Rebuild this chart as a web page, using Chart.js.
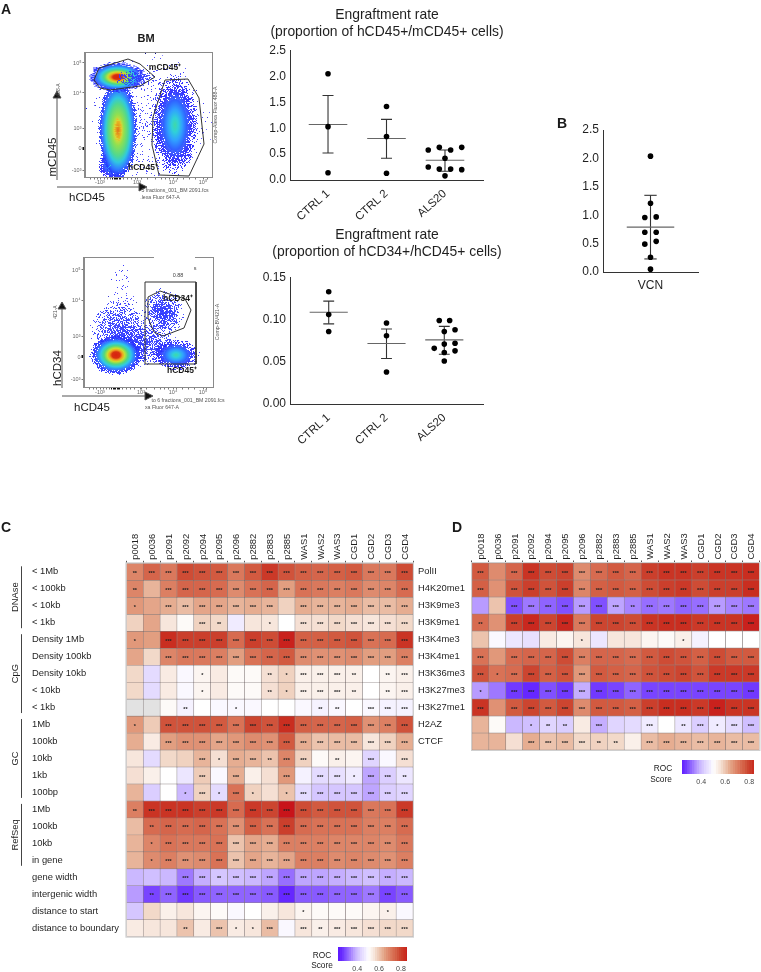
<!DOCTYPE html>
<html><head><meta charset="utf-8">
<style>
html,body{margin:0;padding:0;background:#fff;}
body{position:relative;width:761px;height:972px;overflow:hidden;font-family:"Liberation Sans",Arial,sans-serif;color:#1a1a1a;filter:blur(.3px);}
canvas{position:absolute;display:block;}
.t{position:absolute;white-space:nowrap;transform:translate(-50%,-50%);line-height:1;z-index:5;}
svg{position:absolute;left:0;top:0;z-index:4;}
</style>
<script src="https://cdn.jsdelivr.net/npm/chart.js@4"></script>
</head><body>
<svg width="761" height="972">
 <g stroke="#555" stroke-width="1" fill="#111">
  <line x1="57" y1="180" x2="57" y2="95"/><polygon points="57,91 53,98 61,98" />
  <line x1="57" y1="187" x2="140" y2="187"/><polygon points="147,187 139,183 139,191"/>
  <line x1="62" y1="388" x2="62" y2="306"/><polygon points="62,302 58,309 66,309"/>
  <line x1="62" y1="396" x2="146" y2="396"/><polygon points="153,396 145,392 145,400"/>
 </g>
</svg>
<script>
// ---------- data: engraftment dot plots ----------
const groupLabels = ['CTRL 1','CTRL 2','ALS20'];
const hcd45Ctrl1 = [2.05,1.03,0.14];
const hcd45Ctrl2 = [1.42,0.84,0.13];
const hcd45Als20 = [0.58,0.63,0.58,0.63,0.42,0.25,0.21,0.21,0.20,0.08];
const hcd45Als20Spread = [-0.286,-0.097,0.097,0.286,0,-0.286,-0.097,0.097,0.286,0];
const hcd45Means = [1.07,0.80,0.38];
const hcd45Lower = [0.52,0.42,0.17];
const hcd45Upper = [1.63,1.17,0.58];

const hcd34Ctrl1 = [0.133,0.106,0.086];
const hcd34Ctrl2 = [0.096,0.081,0.038];
const hcd34Als20 = [0.099,0.099,0.088,0.086,0.071,0.072,0.066,0.063,0.061,0.051];
const hcd34Als20Spread = [-0.087,0.093,0.186,0,0,0.186,-0.174,0.186,0,0];
const hcd34Means = [0.1087,0.0717,0.076];
const hcd34Lower = [0.095,0.054,0.059];
const hcd34Upper = [0.122,0.089,0.092];

const vcnLabels = ['VCN'];
const vcnValues = [2.04,1.21,0.96,0.97,0.70,0.70,0.49,0.54,0.26,0.05];
const vcnSpread = [0,0,-0.12,0.12,-0.12,0.12,-0.12,0.12,0,0];
const vcnMeans = [0.79];
const vcnLower = [0.23];
const vcnUpper = [1.35];

// ---------- data: flow plots (channel units along each axis) ----------
const flowTopGateMouse = [[9,97],[14,109],[43,118],[55,113],[70,100],[55,91],[25,87],[15,89],[9,97]];
const flowTopGateHuman = [[80,97],[103,98],[114,79],[119,33],[104,1],[74,2],[67,32],[68,60],[80,97]];
const flowTopCenters = [[65,57],[28,12],[90,52],[33,47],[32.5,100],[50,99],[33,47],[91,99]];
const flowBottomGateBox = [[61,105],[112,105],[112,23],[61,23],[61,105]];
const flowBottomGateCd34 = [[64,90],[76,96],[101,88],[107,77],[100,59],[79,51],[70,55],[64,69],[64,90]];
const flowBottomCenters = [[35,55],[38,85],[60,42],[79,74],[79,74],[92,32],[32,32]];
const flowYTickLabels = ['10⁵','10⁴','10³','0','-10³'];
const flowTopYTicks = [114,84,49,29,7];
const flowBottomYTicks = [117,87,51,30,8];
const flowTopXTicks = [15,32,52,88,118];
const flowBottomXTicks = [16,33,57,89,119];
const flowXTickLabels = ['-10³','','10³','10⁴','10⁵'];
const flowXMinor = [5,9,12,19,22,25,27,29,30,31,34,35,38,42,46,50,56,62,70,76,80,84,92,98,104,110,122];

// ---------- data: ROC heatmaps ----------
const samples = ['p0018','p0036','p2091','p2092','p2094','p2095','p2096','p2882','p2883','p2885','WAS1','WAS2','WAS3','CGD1','CGD2','CGD3','CGD4'];
const genomeRows = ['< 1Mb','< 100kb','< 10kb','< 1kb','Density 1Mb','Density 100kb','Density 10kb','< 10kb','< 1kb','1Mb','100kb','10kb','1kb','100bp','1Mb','100kb','10kb','in gene','gene width','intergenic width','distance to start','distance to boundary'];
const genomeGroups = ['DNAse','CpG','GC','RefSeq'];
const genomeGroupStart = [0,4,9,14];
const genomeGroupEnd = [4,9,14,18];
const genomeScores = [
[.69,.74,.71,.78,.77,.76,.71,.76,.81,.77,.75,.74,.75,.76,.71,.71,.78],
[.69,.62,.70,.74,.74,.73,.68,.72,.74,.65,.72,.71,.70,.71,.68,.69,.73],
[.66,.64,.63,.61,.64,.64,.62,.63,.62,.58,.63,.62,.62,.63,.61,.61,.63],
[.58,.64,.55,.51,.58,.57,.47,.55,.55,.50,.56,.56,.57,.56,.55,.56,.57],
[.66,.65,.83,.80,.80,.80,.73,.80,.78,.85,.75,.75,.76,.77,.72,.73,.82],
[.64,.57,.69,.71,.71,.70,.65,.72,.74,.76,.68,.67,.67,.68,.65,.65,.70],
[.57,.44,.54,.49,.52,.54,.51,.51,.56,.58,.53,.53,.53,.53,.50,.52,.53],
[.57,.44,.54,.49,.52,.54,.51,.51,.56,.58,.53,.53,.53,.53,.50,.52,.53],
[null,null,.51,.48,.50,.49,.49,.49,.50,.50,.49,.48,.49,.50,.49,.48,.48],
[.66,.59,.77,.77,.77,.76,.72,.79,.77,.83,.75,.74,.74,.75,.67,.70,.77],
[.63,.54,.65,.67,.67,.64,.66,.68,.67,.76,.63,.60,.61,.61,.55,.58,.63],
[.55,.44,.57,.58,.62,.56,.63,.62,.60,.69,.58,.51,.53,.52,.43,.49,.56],
[.56,.53,.50,.46,.59,.49,.63,.53,.56,.66,.48,.44,.45,.47,.37,.42,.46],
[.62,.42,.50,.39,.58,.44,.72,.58,.56,.60,.44,.41,.41,.41,.37,.42,.43],
[.70,.82,.82,.82,.80,.81,.73,.81,.79,.87,.78,.76,.77,.77,.71,.72,.81],
[.61,.73,.74,.73,.74,.72,.67,.75,.72,.80,.73,.72,.72,.72,.70,.70,.73],
[.62,.69,.72,.71,.71,.72,.60,.64,.63,.70,.70,.70,.69,.69,.69,.68,.71],
[.62,.68,.70,.67,.68,.72,.60,.64,.62,.64,.70,.70,.68,.69,.68,.67,.70],
[.39,.40,.39,.33,.38,.41,.40,.39,.37,.32,.37,.37,.38,.39,.40,.38,.39],
[.36,.28,.31,.27,.30,.31,.31,.31,.30,.25,.30,.30,.31,.31,.33,.28,.30],
[.41,.57,.53,.55,.52,.51,.49,.50,.53,.55,.52,.51,.51,.51,.52,.53,.49],
[.54,.55,.55,.60,.54,.60,.54,.55,.61,.49,.55,.53,.54,.55,.56,.57,.57]];
const genomeStars = [
[2,3,3,3,3,3,3,3,3,3,3,3,3,3,3,3,3],
[2,0,3,3,3,3,3,3,3,3,3,3,3,3,3,3,3],
[1,0,3,3,3,3,3,3,3,0,3,3,3,3,3,3,3],
[0,0,0,0,3,2,0,0,1,0,3,3,3,3,3,3,3],
[1,0,3,3,3,3,3,3,3,3,3,3,3,3,3,3,3],
[0,0,3,3,3,3,3,3,3,3,3,3,3,3,3,3,3],
[0,0,0,0,1,0,0,0,2,1,3,3,3,2,0,2,3],
[0,0,0,0,1,0,0,0,2,1,3,3,3,2,0,2,3],
[0,0,0,2,0,0,1,0,0,0,0,2,2,0,3,3,3],
[1,0,3,3,3,3,3,3,3,3,3,3,3,3,3,3,3],
[0,0,3,3,3,3,3,3,3,3,3,3,3,3,3,3,3],
[0,0,0,0,3,1,3,3,2,3,3,0,2,0,3,0,3],
[0,0,0,0,3,0,3,0,0,3,0,3,3,1,3,3,2],
[0,0,0,1,3,1,3,1,0,1,3,3,3,3,3,3,3],
[2,3,3,3,3,3,3,3,3,3,3,3,3,3,3,3,3],
[0,2,3,3,3,3,3,3,3,3,3,3,3,3,3,3,3],
[0,1,3,3,3,3,3,3,3,3,3,3,3,3,3,3,3],
[0,1,3,3,3,3,3,3,3,3,3,3,3,3,3,3,3],
[0,0,0,3,3,2,3,3,3,3,3,3,3,3,3,3,3],
[0,2,3,3,3,3,3,3,3,3,3,3,3,3,3,3,3],
[0,0,0,0,0,0,0,0,0,0,1,0,0,0,0,1,0],
[0,0,0,2,0,3,1,1,3,0,3,2,3,3,3,3,3]];
const histoneRows = ['PolII','H4K20me1','H3K9me3','H3K9me1','H3K4me3','H3K4me1','H3K36me3','H3K27me3','H3K27me1','H2AZ','CTCF'];
const histoneScores = [
[.76,.68,.74,.82,.78,.79,.68,.73,.76,.74,.80,.82,.82,.80,.82,.82,.83],
[.75,.67,.77,.80,.77,.80,.69,.75,.76,.75,.78,.80,.81,.78,.80,.80,.83],
[.36,.60,.29,.33,.31,.29,.36,.29,.37,.34,.32,.33,.31,.32,.36,.34,.33],
[.73,.67,.80,.84,.79,.84,.71,.79,.79,.78,.82,.83,.83,.81,.82,.82,.85],
[.60,.49,.46,.45,.54,.52,.55,.46,.55,.55,.52,.51,.53,.48,.50,.50,.50],
[.72,.66,.73,.74,.74,.78,.70,.74,.74,.73,.76,.78,.77,.75,.78,.76,.76],
[.77,.72,.73,.79,.75,.77,.66,.76,.75,.74,.77,.78,.79,.77,.81,.81,.81],
[.36,.33,.27,.25,.29,.27,.38,.27,.28,.31,.28,.28,.28,.28,.28,.28,.27],
[.82,.67,.76,.79,.76,.79,.68,.76,.76,.75,.80,.83,.83,.81,.85,.82,.82],
[.62,.51,.39,.40,.43,.42,.54,.38,.43,.44,.47,.50,.46,.42,.47,.44,.40],
[.62,.62,.56,.63,.60,.61,.57,.58,.57,.53,.61,.63,.62,.61,.62,.61,.61]];
const histoneStars = [
[3,0,3,3,3,3,3,3,3,3,3,3,3,3,3,3,3],
[3,0,3,3,3,3,3,3,3,3,3,3,3,3,3,3,3],
[0,0,3,3,3,3,3,3,3,2,3,3,3,3,3,3,3],
[2,0,3,3,3,3,3,3,3,3,3,3,3,3,3,3,3],
[0,0,0,0,0,0,1,0,0,0,0,0,1,0,0,0,0],
[3,0,3,3,3,3,3,3,3,3,3,3,3,3,3,3,3],
[3,1,3,3,3,3,3,3,3,3,3,3,3,3,3,3,3],
[1,0,3,3,3,3,3,3,3,3,3,3,3,3,3,3,3],
[3,0,3,3,3,3,3,3,3,3,3,3,3,3,3,3,3],
[0,0,0,1,2,2,0,3,0,0,3,0,2,3,1,3,3],
[0,0,0,3,3,3,3,2,2,0,3,3,3,3,3,3,3]];
const legendLevels = [.22,.24,.26,.28,.30,.32,.34,.36,.38,.40,.42,.44,.46,.48,.50,.52,.54,.56,.58,.60,.62,.64,.66,.68,.70,.72,.74,.76,.78,.80,.82,.84,.86];
const legendTicks = [0.4,0.6,0.8];

// ---------- helpers ----------
Chart.defaults.font.family = '"Liberation Sans", Arial, sans-serif';
Chart.defaults.animation = false;
Chart.defaults.responsive = false;
Chart.defaults.plugins.legend.display = false;
Chart.defaults.plugins.tooltip.enabled = false;
const INK = '#1f1f1f';

function mk(left, top, w, h, blur){
  const c = document.createElement('canvas');
  c.width = w; c.height = h;
  c.style.left = left+'px'; c.style.top = top+'px';
  c.style.width = w+'px'; c.style.height = h+'px';
  if (blur) c.style.filter = 'blur('+blur+'px)';
  document.body.appendChild(c);
  return c;
}
function text(str, x, y, size, opts){
  opts = opts || {};
  const s = document.createElement('span');
  s.className = 't'; s.textContent = str;
  s.style.left = x+'px'; s.style.top = y+'px'; s.style.fontSize = size+'px';
  if (opts.bold) s.style.fontWeight = 'bold';
  if (opts.color) s.style.color = opts.color;
  if (opts.rot) s.style.transform = 'translate(-50%,-50%) rotate('+opts.rot+'deg)';
  document.body.appendChild(s);
}
const fixW = w => s => { s.width = w; s.paddingTop = s.paddingBottom = 0; s.paddingLeft = s.paddingRight = 0; };
const fixH = h => s => { s.height = h; s.paddingLeft = s.paddingRight = 0; s.paddingTop = s.paddingBottom = 0; };

// ---------- dot plots ----------
function segment(x0,y0,x1,y1,color,width){
  return {type:'scatter',showLine:true,data:[{x:x0,y:y0},{x:x1,y:y1}],borderColor:color,borderWidth:width,pointRadius:0,order:2};
}
function dotDatasets(groups, means, lower, upper, halfMean, halfCap){
  const ds = [];
  means.forEach((m,i)=>{
    const x = i+1;
    ds.push(segment(x-halfMean,m,x+halfMean,m,'#666',1.1));
    ds.push(segment(x,lower[i],x,upper[i],'#333',1.1));
    ds.push(segment(x-halfCap,lower[i],x+halfCap,lower[i],'#333',1.1));
    ds.push(segment(x-halfCap,upper[i],x+halfCap,upper[i],'#333',1.1));
  });
  ds.push({type:'scatter',data:groups,pointRadius:2.8,pointBackgroundColor:'#000',pointBorderWidth:0,order:0});
  return ds;
}
function pts(i, values, spread){ return values.map((v,k)=>({x:i+1+(spread?spread[k]:0),y:v})); }

function dotChart(canvas, cfg){
  const scales = {
    x:{type:'linear',min:cfg.xMin,max:cfg.xMax,grid:{display:false,drawTicks:true,tickLength:4,tickColor:'#333'},
       border:{color:'#333',width:1},
       afterBuildTicks:a=>{a.ticks=cfg.labels.map((l,i)=>({value:i+1}));},
       ticks:{autoSkip:false,color:INK,font:{size:cfg.rotate?11.5:12},padding:cfg.rotate?3:2,minRotation:cfg.rotate||0,maxRotation:cfg.rotate||0,
              callback:v=>cfg.labels[v-1]},
       afterFit:fixH(cfg.bottom)},
    y:{type:'linear',min:0,max:cfg.yMax,grid:{display:false,tickLength:3,tickColor:'#333'},border:{color:'#333',width:1},
       ticks:{stepSize:cfg.step,color:INK,font:{size:12},padding:1,callback:v=>v.toFixed(cfg.dec)},
       afterFit:fixW(cfg.left)}
  };
  if (cfg.rightAxis) scales.yHidden = {position:'right',display:true,min:0,max:1,grid:{display:false},border:{display:false},ticks:{display:false},afterFit:fixW(cfg.rightAxis)};
  new Chart(canvas,{type:'scatter',data:{datasets:cfg.datasets},options:{
    layout:{padding:cfg.padding||0},scales,
    plugins:{title:cfg.title?{display:true,text:cfg.title,color:INK,font:{size:13.9,weight:'normal',lineHeight:1.19},padding:cfg.titlePad}:{display:false}}
  }});
}
dotChart(mk(262,0,250,222),{
  labels:groupLabels,xMin:0.35,xMax:3.65,yMax:2.5,step:.5,dec:1,left:28,bottom:42,rightAxis:29,rotate:42,
  title:['Engraftment rate','(proportion of hCD45+/mCD45+ cells)'],titlePad:{top:7,bottom:10.4},
  datasets:dotDatasets([...pts(0,hcd45Ctrl1),...pts(1,hcd45Ctrl2),...pts(2,hcd45Als20,hcd45Als20Spread)],hcd45Means,hcd45Lower,hcd45Upper,.33,.094)
});
dotChart(mk(262,220,250,225),{
  labels:groupLabels,xMin:0.33,xMax:3.67,yMax:.15,step:.05,dec:2,left:28,bottom:41,rightAxis:29,rotate:42,
  title:['Engraftment rate','(proportion of hCD34+/hCD45+ cells)'],titlePad:{top:7,bottom:17.4},
  datasets:dotDatasets([...pts(0,hcd34Ctrl1),...pts(1,hcd34Ctrl2),...pts(2,hcd34Als20,hcd34Als20Spread)],hcd34Means,hcd34Lower,hcd34Upper,.33,.094)
});
dotChart(mk(570,120,140,175),{
  labels:vcnLabels,xMin:0,xMax:2,yMax:2.5,step:.5,dec:1,left:33,bottom:23,padding:{top:10,right:12},
  datasets:dotDatasets(pts(0,vcnValues,vcnSpread),vcnMeans,vcnLower,vcnUpper,.5,.13)
});

// ---------- flow plots ----------
function speckled(rx, ry, stops, seed){
  const c = document.createElement('canvas');
  c.width = Math.ceil(rx*2)+2; c.height = Math.ceil(ry*2)+2;
  const g = c.getContext('2d');
  g.translate(c.width/2,c.height/2); g.scale(rx,ry);
  const rg = g.createRadialGradient(0,0,0,0,0,1);
  stops.forEach(s=>rg.addColorStop(s[0],s[1]));
  g.fillStyle = rg; g.beginPath(); g.arc(0,0,1,0,Math.PI*2); g.fill();
  const im = g.getImageData(0,0,c.width,c.height), d = im.data;
  for (let y=0;y<c.height;y++) for (let x=0;x<c.width;x++){
    const k = (y*c.width+x)*4+3, a = d[k];
    if (a>0 && a<250){
      const h = Math.sin(x*12.9898+(y+seed)*78.233)*43758.5453;
      d[k] = (h-Math.floor(h)) < a/255 ? 235 : 0;
    }
  }
  g.setTransform(1,0,0,1,0,0);
  g.putImageData(im,0,0);
  return c;
}
const hot = [[0,'#d82010'],[.15,'#d83010'],[.24,'#f0a020'],[.32,'#c8e030'],[.44,'#50d880'],[.56,'#30c8e8'],[.68,'#3080ff'],[.8,'rgba(40,50,255,.8)'],[1,'rgba(40,50,255,0)']];
const warm = [[0,'#e8b030'],[.18,'#d8d838'],[.3,'#90e050'],[.5,'#50d890'],[.62,'#30c8e0'],[.75,'#3080ff'],[.86,'rgba(40,60,255,.8)'],[1,'rgba(40,60,255,0)']];
const cool = [[0,'#40d8a8'],[.14,'#30d0d8'],[.3,'#30a0ff'],[.48,'#3060ff'],[.68,'rgba(40,40,255,.7)'],[1,'rgba(40,40,255,0)']];
const blue = [[0,'rgba(50,60,255,.8)'],[.6,'rgba(50,60,255,.42)'],[1,'rgba(50,60,255,0)']];
const sparse = [[0,'rgba(60,60,255,.13)'],[.6,'rgba(60,60,255,.06)'],[1,'rgba(60,60,255,0)']];
const flowTopSprites = [
  speckled(66,70,sparse,1),speckled(16,16,cool,2),speckled(24,52,cool,3),speckled(20,52,warm,4),
  speckled(30,16,hot,5),speckled(22,9,blue,6),speckled(4.5,13,[[0,'#e06a18'],[.55,'rgba(230,170,30,.8)'],[1,'rgba(232,200,48,0)']],7),speckled(13,5,sparse,15)];
const flowBottomSprites = [
  speckled(30,33,blue,8),speckled(16,44,sparse,9),speckled(34,22,blue,10),speckled(22,26,blue,11),
  speckled(12,14,blue,12),speckled(24,17,cool,13),speckled(27,21,hot,14)];
function flowDataset(points, color){ return {data:points.map(p=>({x:p[0],y:p[1]})),showLine:true,borderColor:color,borderWidth:1,pointRadius:0,order:0}; }
function flowChart(canvas, cfg){
  const yVals = cfg.yTicks, xVals = cfg.xTicks;
  new Chart(canvas,{type:'scatter',data:{datasets:[
    ...cfg.gates.map(g=>flowDataset(g,'#333')),
    {data:cfg.centers.map(p=>({x:p[0],y:p[1]})),pointStyle:cfg.sprites,pointRadius:10,order:1}
  ]},options:{
    layout:{padding:cfg.padding},
    scales:{
      x:{type:'linear',min:0,max:cfg.w,grid:{drawOnChartArea:false,tickLength:2.5,tickColor:c=>(c.tick&&c.tick.value>=27&&c.tick.value<=35)?'#111':'#777'},border:{color:'#8a8a8a',width:1},
         afterBuildTicks:a=>{a.ticks=[...xVals,...flowXMinor].map(v=>({value:v}));},
         ticks:{autoSkip:false,maxRotation:0,minRotation:0,padding:0,color:'#666',font:{size:5.5},callback:v=>{const i=xVals.indexOf(v);return i<0?'':flowXTickLabels[i];}},
         afterFit:fixH(cfg.bottom)},
      y:{type:'linear',min:0,max:cfg.h,grid:{drawOnChartArea:false,tickLength:2.5,tickColor:c=>(c.tick&&c.tick.value===yVals[3])?'#111':'#777',tickWidth:c=>(c.tick&&c.tick.value===yVals[3])?3:1},border:{color:'#8a8a8a',width:1},
         afterBuildTicks:a=>{a.ticks=yVals.map(v=>({value:v}));},
         ticks:{autoSkip:false,padding:1,color:'#666',font:{size:5.5},callback:v=>flowYTickLabels[yVals.indexOf(v)]},
         afterFit:fixW(cfg.left)}
    },
  },plugins:[{id:'frame',afterDraw(ch){const g=ch.ctx,a=ch.chartArea;g.save();g.strokeStyle='#8a8a8a';g.lineWidth=1;
     g.strokeRect(Math.round(a.left)-.5,Math.round(a.top)+.5,Math.round(a.right-a.left)+1,Math.round(a.bottom-a.top));
     if(cfg.notch){g.fillStyle='#fff';g.fillRect(a.left+cfg.notch[0],a.top-2,cfg.notch[1],4);}
     g.restore();}}]});
}
flowChart(mk(60,40,165,150,.4),{w:127,h:125,left:25,bottom:13,padding:{top:12,right:13},
  gates:[flowTopGateMouse,flowTopGateHuman],centers:flowTopCenters,sprites:flowTopSprites,
  yTicks:flowTopYTicks,xTicks:flowTopXTicks});
flowChart(mk(60,245,165,155,.4),{w:129,h:130,left:24,bottom:13,padding:{top:12,right:12},
  gates:[flowBottomGateBox,flowBottomGateCd34],centers:flowBottomCenters,sprites:flowBottomSprites,
  yTicks:flowBottomYTicks,xTicks:flowBottomXTicks,notch:[70,41]});

// ---------- heatmaps ----------
const cmapStops = [[.22,[90,20,255]],[.26,[106,45,255]],[.29,[128,80,255]],[.33,[158,120,255]],[.36,[184,155,255]],[.39,[203,184,255]],[.43,[224,213,255]],[.47,[240,235,255]],[.5,[255,255,255]],
  [.55,[247,230,220]],[.58,[240,210,192]],[.62,[232,180,154]],[.65,[226,158,128]],[.69,[221,133,104]],[.73,[215,107,80]],[.76,[210,90,64]],[.79,[204,69,48]],[.83,[201,46,32]],[.87,[200,20,26]]];
function roc(v){
  if (v===null) return '#e2e2e2';
  let a = cmapStops[0], b = cmapStops[cmapStops.length-1];
  if (v<=a[0]) return 'rgb('+a[1]+')';
  if (v>=b[0]) return 'rgb('+b[1]+')';
  for (let i=1;i<cmapStops.length;i++) if (v<=cmapStops[i][0]){ a=cmapStops[i-1]; b=cmapStops[i]; break; }
  const t=(v-a[0])/(b[0]-a[0]);
  return 'rgb('+a[1].map((c,k)=>Math.round(c+(b[1][k]-c)*t))+')';
}
function heatChart(canvas, cfg){
  const rows = cfg.rows, n = rows.length;
  const datasets = cfg.scores.map((r,ri)=>({
    data:r.map(()=>[ri,ri+1]),backgroundColor:r.map(roc),borderColor:'rgba(70,55,55,.55)',borderWidth:.55,borderSkipped:false,
    grouped:false,barPercentage:1,categoryPercentage:1
  }));
  new Chart(canvas,{type:'bar',data:{labels:samples,datasets},options:{
    layout:{padding:cfg.padding},
    scales:{
      x:{type:'category',position:'top',grid:{drawOnChartArea:false,tickLength:2.5,tickColor:'#555'},border:{display:false},
         ticks:{autoSkip:false,minRotation:90,maxRotation:90,padding:1,labelOffset:12,color:INK,font:{size:9.4}},afterFit:fixH(cfg.top)},
      y:{type:'linear',reverse:true,min:0,max:n,grid:{display:false},border:{display:false},
         afterBuildTicks:a=>{a.ticks=rows.map((_,i)=>({value:i+.5}));},
         ticks:{autoSkip:false,crossAlign:'far',padding:0,color:INK,font:{size:9.4},callback:v=>rows[Math.floor(v)]},
         afterFit:fixW(cfg.left)}
    }
  },plugins:[{id:'marks',afterDatasetsDraw(ch){
    const g=ch.ctx,a=ch.chartArea,ys=ch.scales.y;
    g.save();
    g.strokeStyle='#cfcfcf';g.lineWidth=1;g.strokeRect(a.left-.5,a.top-.5,a.right-a.left+1,a.bottom-a.top+1);
    g.fillStyle='#222';g.font='bold 5.5px "Liberation Sans"';g.textAlign='center';g.textBaseline='middle';
    cfg.stars.forEach((r,ri)=>{const m=ch.getDatasetMeta(ri);r.forEach((s,ci)=>{if(s)g.fillText('*'.repeat(s),m.data[ci].x,ys.getPixelForValue(ri+.5)+1.6);});});
    if(cfg.groups){
      g.strokeStyle='#444';g.fillStyle=INK;g.font='9.4px "Liberation Sans"';
      cfg.groups.forEach((name,i)=>{
        const y0=ys.getPixelForValue(genomeGroupStart[i])+3,y1=ys.getPixelForValue(genomeGroupEnd[i])-3,x=21.5;
        g.beginPath();g.moveTo(x,y0);g.lineTo(x,y1);g.stroke();
        g.save();g.translate(x-6,(y0+y1)/2);g.rotate(-Math.PI/2);g.fillText(name,0,0);g.restore();
      });
    }
    g.restore();
  }}]});
}
heatChart(mk(0,530,416,410),{rows:genomeRows,scores:genomeScores,stars:genomeStars,groups:genomeGroups,top:33.3,left:94.4,padding:{left:32,right:3,bottom:3.3}});
heatChart(mk(418,530,343,222),{rows:histoneRows,scores:histoneScores,stars:histoneStars,top:33,left:54,padding:{right:1.5,bottom:2}});

function legendChart(canvas, xMin, xMax){
  new Chart(canvas,{type:'bar',data:{labels:['ROC Score'],datasets:legendLevels.map(l=>({data:[[l,l+.02]],backgroundColor:roc(l+.01),grouped:false,barPercentage:1,categoryPercentage:1}))},
   options:{indexAxis:'y',scales:{
     y:{type:'category',display:false},
     x:{type:'linear',min:xMin,max:xMax,grid:{display:false,drawTicks:false},border:{display:false},
        afterBuildTicks:a=>{a.ticks=legendTicks.map(v=>({value:v}));},
        ticks:{autoSkip:false,maxRotation:0,padding:4,color:'#444',font:{size:7},callback:v=>v.toFixed(1)},afterFit:fixH(14)}
   }}});
}
legendChart(mk(338,947,69,28),.225,.855);
legendChart(mk(682,760,72,28),.24,.84);

// ---------- annotations ----------
text('A',6,9,14,{bold:true}); text('B',562,123,14,{bold:true}); text('C',6,527,14,{bold:true}); text('D',457,527,14,{bold:true});
text('BM',146,38,11,{bold:true});
text('mCD45⁺',165,67,8.5,{bold:true}); text('hCD45⁺',143,167,8.5,{bold:true});
text('mCD45',53,157,11.5,{rot:-90}); text('hCD45',87,198,11.5);
text('5 fractions_001_BM 2091.fcs',175,191,5.2,{color:'#555'}); text('.lexa Fluor 647-A',160,198,5.2,{color:'#555'});
text('Comp-Alexa Fluor 488-A',216,115,5.2,{rot:-90,color:'#555'});
text('488-A',58,90,5,{rot:-90,color:'#555'});
text('hCD34⁺',178,298,8.5,{bold:true}); text('hCD45⁺',182,370,8.5,{bold:true});
text('0.88',178,276,5.5,{color:'#444'}); text('s',195,269,5.5,{color:'#444'});
text('hCD34',58,368,11.5,{rot:-90}); text('hCD45',92,408,11.5);
text('to 6 fractions_001_BM 2091.fcs',188,401,5.2,{color:'#555'}); text('xa Fluor 647-A',162,408,5.2,{color:'#555'});
text('Comp-BV421-A',218,322,5.2,{rot:-90,color:'#555'});
text('421-A',55,312,5,{rot:-90,color:'#555'});
text('ROC',322,955,8.3); text('Score',322,965,8.3);
text('ROC',663,768,8.3); text('Score',661,779,8.3);
</script>
</body></html>
